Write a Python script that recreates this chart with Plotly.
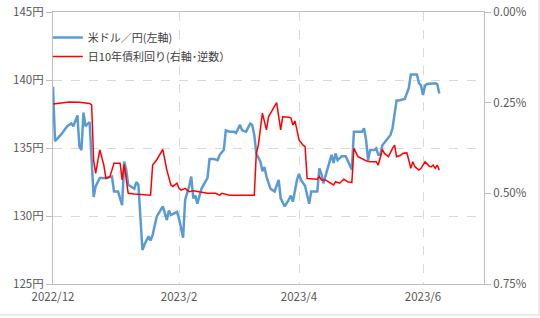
import pandas as pd
import plotly.graph_objects as go

base_date = "2022-12-01"

usd_days = [0, 1, 4, 7, 9, 10, 12, 13, 14, 15, 16, 18, 20, 21, 23, 26, 29, 30, 32, 34, 35, 36, 37, 40, 41, 42,
            44, 45, 47, 48, 49, 51, 54, 56, 57, 58, 61, 62, 64, 65, 67, 68, 69, 70, 71, 73, 76, 77, 79, 81, 82,
            84, 85, 87, 89, 90, 92, 93, 95, 97, 98, 99, 100, 102, 103, 104, 105, 107, 109, 111, 112, 114, 116,
            117, 118, 120, 121, 122, 124, 126, 127, 130, 131, 132, 133, 135, 136, 137, 138, 139, 140, 142, 144,
            145, 147, 148, 150, 152, 153, 154, 155, 156, 158, 159, 160, 161, 162, 164, 166, 167, 169, 170, 172,
            173, 175, 176, 179, 180, 181, 182, 183, 184, 188, 189, 190]
usd_jpy = [139.5, 135.5, 136.0, 136.6, 136.8, 136.6, 137.4, 135.1, 134.85, 137.6, 136.6, 136.9, 131.4, 132.2,
           132.8, 132.8, 132.9, 131.8, 131.8, 130.8, 134.0, 133.4, 132.3, 132.0, 132.5, 132.3,
           127.5, 127.9, 128.5, 128.2, 128.6, 129.95, 130.7, 129.7, 130.4, 130.07, 130.3, 129.8, 128.4, 131.2,
           132.2, 132.9, 131.3, 131.5, 130.9, 132.0, 132.8, 134.2, 134.2, 134.1, 134.5,
           134.85, 136.3, 136.2, 136.2, 136.1, 136.7, 136.3, 136.2, 136.8, 136.7, 135.96, 134.6, 134.0, 133.3,
           133.6, 132.9, 132.0, 131.8, 132.65, 131.3, 130.7, 131.2,
           131.5, 131.05, 132.65, 133.1, 132.65, 132.2, 130.9, 131.8, 131.8, 133.5, 133.1, 132.4, 133.4, 134.0,
           134.5, 133.9, 134.6, 134.1, 134.4, 134.4,
           134.1, 133.4, 136.2, 136.2, 136.2, 136.45, 135.6, 134.1, 134.85, 134.85, 134.97, 134.5, 134.5, 135.2,
           135.6, 135.96, 136.45, 138.5, 138.5, 138.6,
           138.6, 139.4, 140.4, 140.4, 139.76, 139.6, 138.9, 139.6, 139.7, 139.76, 139.7, 139.0]

jgb_days = [0, 3, 6, 8, 13, 17, 18, 19, 20, 21, 23, 25, 26, 28, 30, 33, 34, 35, 37, 40, 48, 49, 51, 54, 56, 58,
            59, 61, 62, 63, 65, 66, 67, 69, 73, 76, 80, 82, 83, 87, 93, 95, 98, 99, 100, 101, 103, 105, 106,
            108, 110, 112, 113, 116, 117, 118, 119, 120, 121, 123, 124, 125, 127, 130, 131, 132, 134, 136, 138,
            139, 141, 143, 145, 147, 148, 150, 153, 154, 156, 159, 160, 162, 163, 165, 167, 168, 169, 171, 172,
            174, 175, 176, 177, 178, 180, 181, 183, 185, 186, 187, 188, 189, 190]
jgb_yield = [0.254, 0.252, 0.250, 0.248, 0.249, 0.251, 0.252, 0.256, 0.41, 0.445, 0.38, 0.422, 0.459, 0.454,
             0.417, 0.417, 0.463, 0.42, 0.50, 0.502, 0.505, 0.422, 0.408, 0.379, 0.436, 0.477,
             0.481, 0.472, 0.486, 0.491, 0.486, 0.491, 0.4955, 0.493, 0.498, 0.50, 0.50, 0.505, 0.50, 0.505,
             0.505, 0.505, 0.503, 0.505, 0.39, 0.367, 0.279, 0.325, 0.289,
             0.27, 0.25, 0.325, 0.289, 0.29, 0.292, 0.312, 0.30, 0.325, 0.353, 0.367, 0.371, 0.459, 0.459, 0.461,
             0.454, 0.463, 0.463, 0.4705, 0.477,
             0.468, 0.472, 0.461, 0.468, 0.4705, 0.376, 0.399, 0.408, 0.41, 0.413, 0.413, 0.422, 0.379, 0.39,
             0.399, 0.376, 0.367, 0.399, 0.395, 0.39,
             0.388, 0.408, 0.431, 0.413, 0.4265, 0.436, 0.431, 0.413, 0.425, 0.427, 0.422, 0.431, 0.422, 0.436]

yen_ticks = [125, 130, 135, 140, 145]
yen_tick_text = ["125円", "130円", "135円", "140円", "145円"]
pct_ticks = [0.0, 0.25, 0.5, 0.75]
pct_tick_text = ["0.00%", "0.25%", "0.50%", "0.75%"]
x_tick_dates = ["2022-12-01", "2023-02-01", "2023-04-01", "2023-06-01"]
x_tick_text = ["2022/12", "2023/2", "2023/4", "2023/6"]

usd_dates = pd.to_datetime(base_date) + pd.to_timedelta(usd_days, unit="D")
jgb_dates = pd.to_datetime(base_date) + pd.to_timedelta(jgb_days, unit="D")

FONT = "Noto Sans CJK JP"
GRID = "#D9D9D9"
AXIS = "#BFBFBF"
TXT = "#595959"

fig = go.Figure()
fig.add_trace(go.Scatter(x=usd_dates, y=usd_jpy, mode="lines", name="米ドル／円(左軸)",
                         line=dict(color="#5B9BD5", width=2.5), yaxis="y"))
fig.add_trace(go.Scatter(x=jgb_dates, y=jgb_yield, mode="lines", name="日10年債利回り(右軸･逆数）",
                         line=dict(color="#FF0000", width=1.5), yaxis="y2"))

fig.update_layout(
    width=540, height=318,
    margin=dict(l=53, r=56, t=12, b=34, autoexpand=False),
    paper_bgcolor="white", plot_bgcolor="white",
    font=dict(family=FONT, size=11, color=TXT),
    showlegend=True,
    legend=dict(x=-0.012, y=0.96, xanchor="left", yanchor="top", bgcolor="rgba(0,0,0,0)",
                font=dict(family=FONT, size=11, color="#404040"), tracegroupgap=0, itemwidth=30),
    xaxis=dict(range=["2022-12-01", "2023-07-01"], tickvals=x_tick_dates, ticktext=x_tick_text,
               showgrid=True, gridcolor=GRID, griddash="dash", gridwidth=1, automargin=False,
               showline=True, linecolor=AXIS, linewidth=1, mirror=True,
               ticks="", ticklabelstandoff=2, tickfont=dict(size=11.5, color=TXT), zeroline=False),
    yaxis=dict(range=[125, 145], tickvals=yen_ticks, ticktext=yen_tick_text, automargin=False,
               showgrid=True, gridcolor=GRID, griddash="dash", gridwidth=1,
               showline=True, linecolor=AXIS, linewidth=1, ticks="outside", ticklen=6,
               tickcolor=AXIS, tickfont=dict(size=11.5, color=TXT), zeroline=False),
    yaxis2=dict(range=[0.75, 0.0], tickvals=pct_ticks, ticktext=pct_tick_text, automargin=False,
                overlaying="y", side="right", showgrid=False,
                showline=True, linecolor=AXIS, linewidth=1, ticks="outside", ticklen=6,
                tickcolor=AXIS, tickfont=dict(size=11.5, color=TXT), zeroline=False),
)

# outer border of the chart image (visible on right and bottom)
fig.add_shape(type="line", xref="paper", yref="paper", x0=-0.123, x1=1.13, y0=-0.114, y1=-0.114,
              line=dict(color="#D9D9D9", width=1))
fig.add_shape(type="line", xref="paper", yref="paper", x0=1.1276, x1=1.1276, y0=-0.114, y1=1.05,
              line=dict(color="#D9D9D9", width=1))

fig.write_html("out.html")
